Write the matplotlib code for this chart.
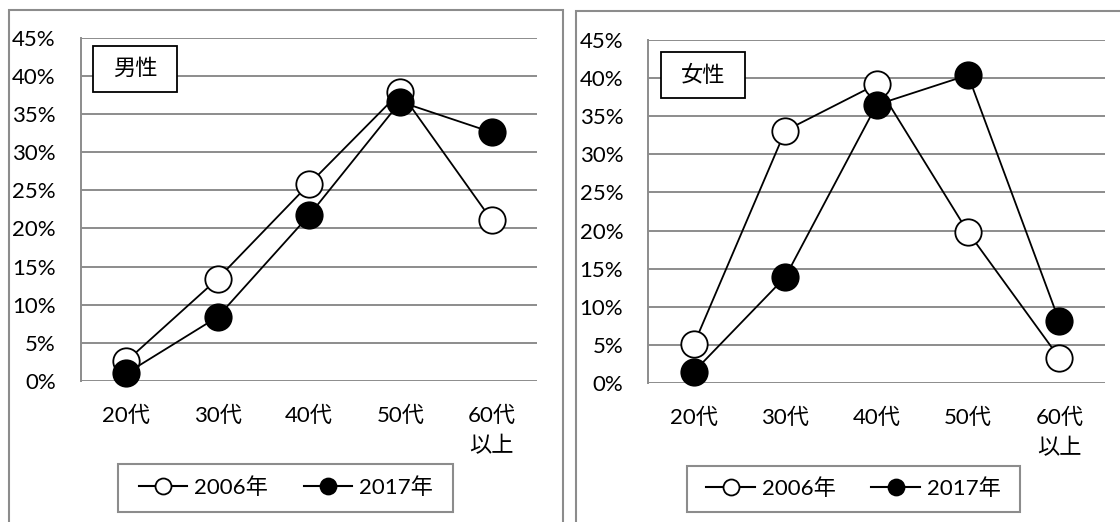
import matplotlib
matplotlib.use("Agg")
import matplotlib.pyplot as plt
from matplotlib.lines import Line2D
from matplotlib.patches import Rectangle

plt.rcParams['font.family'] = ['Lato', 'Noto Sans CJK JP', 'DejaVu Sans']

# age groups and shares (%)
ages = ["20代", "30代", "40代", "50代", "60代\n以上"]
years = ["2006年", "2017年"]

male_2006 = [2.6, 13.4, 25.8, 37.9, 21.1]
male_2017 = [1.0, 8.4, 21.7, 36.6, 32.6]
female_2006 = [5.1, 33.1, 39.2, 19.8, 3.3]
female_2017 = [1.5, 13.9, 36.5, 40.4, 8.1]

yticks = list(range(0, 50, 5))

W, H = 1120, 522
GRID = "#8c8c8c"
FS = 16


def px(x0, y0, x1, y1):
    # pixel box (top-left origin) -> figure fraction rect
    return [x0 / W, 1 - y1 / H, (x1 - x0) / W, (y1 - y0) / H]


def box(x0, y0, x1, y1, **kw):
    r = Rectangle((x0 / W, 1 - y1 / H), (x1 - x0) / W, (y1 - y0) / H,
                  transform=fig.transFigure, **kw)
    fig.add_artist(r)
    return r


fig = plt.figure(figsize=(W / 100, H / 100), dpi=100)

# panel frames
box(8.5, 9.5, 562.7, 540, fill=False, edgecolor=GRID, linewidth=1.5)
box(576, 11, 1130, 540, fill=False, edgecolor=GRID, linewidth=1.5)


def draw_panel(rect, v2006, v2017, title, title_box, legend_box):
    ax = fig.add_axes(px(*rect))
    x = list(range(len(ages)))
    ax.plot(x, v2006, color="black", lw=1.3, marker="o", ms=19,
            mfc="white", mec="black", mew=1.3, clip_on=False, zorder=3)
    ax.plot(x, v2017, color="black", lw=1.3, marker="o", ms=19,
            mfc="black", mec="black", mew=1.3, clip_on=False, zorder=4)
    ax.set_xlim(-0.5, len(ages) - 0.5)
    ax.set_ylim(0, 45)
    ax.set_yticks(yticks)
    ax.set_yticklabels([f"{v}%" for v in yticks], fontsize=FS)
    ax.set_xticks(x)
    ax.set_xticklabels(ages, fontsize=FS, linespacing=1.6, va="top")
    ax.tick_params(axis="y", length=0, pad=18)
    ax.tick_params(axis="x", length=0, pad=18)
    ax.grid(axis="y", color=GRID, lw=1.4)
    ax.set_axisbelow(True)
    for s in ["top", "right", "bottom"]:
        ax.spines[s].set_visible(False)
    ax.spines["left"].set_color(GRID)
    ax.spines["left"].set_linewidth(1.4)

    # title box
    bx0, by0, bx1, by1 = title_box
    box(bx0, by0, bx1, by1, facecolor="white", edgecolor="black", linewidth=1.3, zorder=5)
    fig.text((bx0 + bx1) / 2 / W, 1 - (by0 + by1) / 2 / H, title, fontsize=FS,
             ha="center", va="center", zorder=6)

    # legend
    handles = [
        Line2D([], [], color="black", lw=1.5, marker="o", ms=11.5, mfc="white", mec="black", mew=1.3),
        Line2D([], [], color="black", lw=1.5, marker="o", ms=11.5, mfc="black", mec="black", mew=1.3),
    ]
    lx0, ly0, lx1, ly1 = legend_box
    box(lx0, ly0, lx1, ly1, facecolor="white", edgecolor=GRID, linewidth=1.5)
    fig.legend(handles, years, loc="center", ncol=2, fontsize=FS,
               bbox_to_anchor=((lx0 + lx1) / 2 / W, 1 - (ly0 + ly1) / 2 / H),
               frameon=False, handlelength=2.2, handletextpad=0.3,
               columnspacing=1.6, borderpad=0, borderaxespad=0)
    return ax


draw_panel((80.7, 37.7, 537.3, 381), male_2006, male_2017, "男性",
           (93.3, 45.7, 177.3, 92.3), (118.3, 464, 453.3, 511.7))
draw_panel((648.3, 40, 1105, 383), female_2006, female_2017, "女性",
           (661, 51.7, 745, 98.3), (686.8, 466, 1020, 511.7))

fig.savefig("out.png", dpi=100)
